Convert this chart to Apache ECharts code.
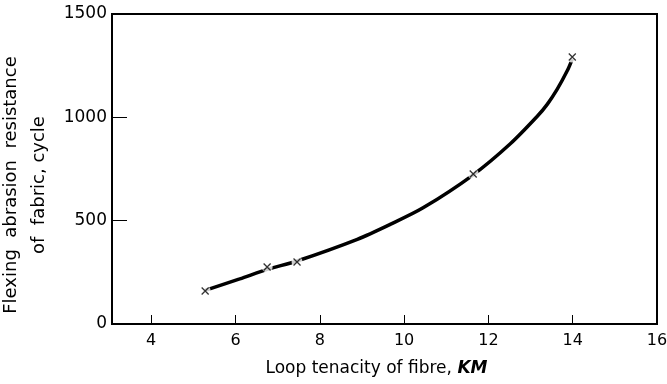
<!DOCTYPE html>
<html>
<head>
<meta charset="utf-8">
<script src="https://cdn.jsdelivr.net/npm/echarts@6/dist/echarts.min.js"></script>
<style>html,body{margin:0;padding:0;background:#fff}#c{width:667px;height:384px}</style>
</head>
<body>
<div id="c"></div>
<script>
// Curve (traced) and measured points
const curveX = [5.28, 6.1, 6.75, 7.46, 8.89, 9.67, 10.45, 11.64, 12.52, 13.16, 13.4, 13.63, 13.87, 13.99];
const curveY = [163, 218, 264, 305, 410, 482, 562, 722, 872, 1005, 1064, 1135, 1225, 1282];
const pointX = [5.28, 6.75, 7.46, 11.64, 13.99];
const pointY = [160, 276, 300, 726, 1292];
const xTicks = [4, 6, 8, 10, 12, 14, 16];
const yTicks = [0, 500, 1000, 1500];

const font = 'DejaVu Sans';
const chart = echarts.init(document.getElementById('c'));
chart.setOption({
  animation: false,
  grid: { left: 112, right: 10, top: 14, bottom: 60, containLabel: false, outerBoundsMode: 'none',
    show: true, borderColor: '#000', borderWidth: 2, backgroundColor: 'transparent' },
  xAxis: {
    type: 'value', min: 3.07, max: 16,
    axisLine: { show: true, lineStyle: { color: '#000', width: 2 } },
    axisTick: { show: true, inside: true, length: 9, customValues: xTicks, lineStyle: { color: '#000', width: 1 } },
    axisLabel: { customValues: xTicks, color: '#000', fontFamily: font, fontSize: 16, margin: 9, formatter: v => String(v) },
    splitLine: { show: false },
    name: 'Loop tenacity of fibre, {b|KM}',
    nameLocation: 'middle', nameGap: 36,
    nameTextStyle: { color: '#000', fontFamily: font, fontSize: 17, padding: [0, 16, 0, 0],
      rich: { b: { fontStyle: 'italic', fontWeight: 'bold', fontFamily: font, fontSize: 17, color: '#000' } } }
  },
  yAxis: {
    type: 'value', min: 0, max: 1500,
    axisLine: { show: true, lineStyle: { color: '#000', width: 2 } },
    axisTick: { show: true, inside: true, length: 15, customValues: yTicks, lineStyle: { color: '#000', width: 1 } },
    axisLabel: { customValues: yTicks, color: '#000', fontFamily: font, fontSize: 17, margin: 5, formatter: v => String(v) },
    splitLine: { show: false },
    name: 'Flexing  abrasion  resistance\nof  fabric, cycle',
    nameLocation: 'middle', nameGap: 56, nameRotate: 90,
    nameTextStyle: { color: '#000', fontFamily: font, fontSize: 18, lineHeight: 28, padding: [0, 32, 0, 0] }
  },
  series: [
    {
      type: 'line', smooth: 0.3, symbol: 'none', z: 2,
      lineStyle: { color: '#000', width: 3.5 },
      data: curveX.map((x, i) => [x, curveY[i]])
    },
    {
      type: 'scatter', symbol: 'circle', symbolSize: 11, z: 3, silent: true,
      itemStyle: { color: '#fff', borderWidth: 0 },
      data: pointX.map((x, i) => [x, pointY[i]])
    },
    {
      type: 'scatter', symbol: 'path://M0,0L10,10M10,0L0,10', symbolSize: 7, z: 4,
      itemStyle: { color: 'transparent', borderColor: '#000', borderWidth: 1.3 },
      data: pointX.map((x, i) => [x, pointY[i]])
    }
  ]
});
</script>
</body>
</html>
